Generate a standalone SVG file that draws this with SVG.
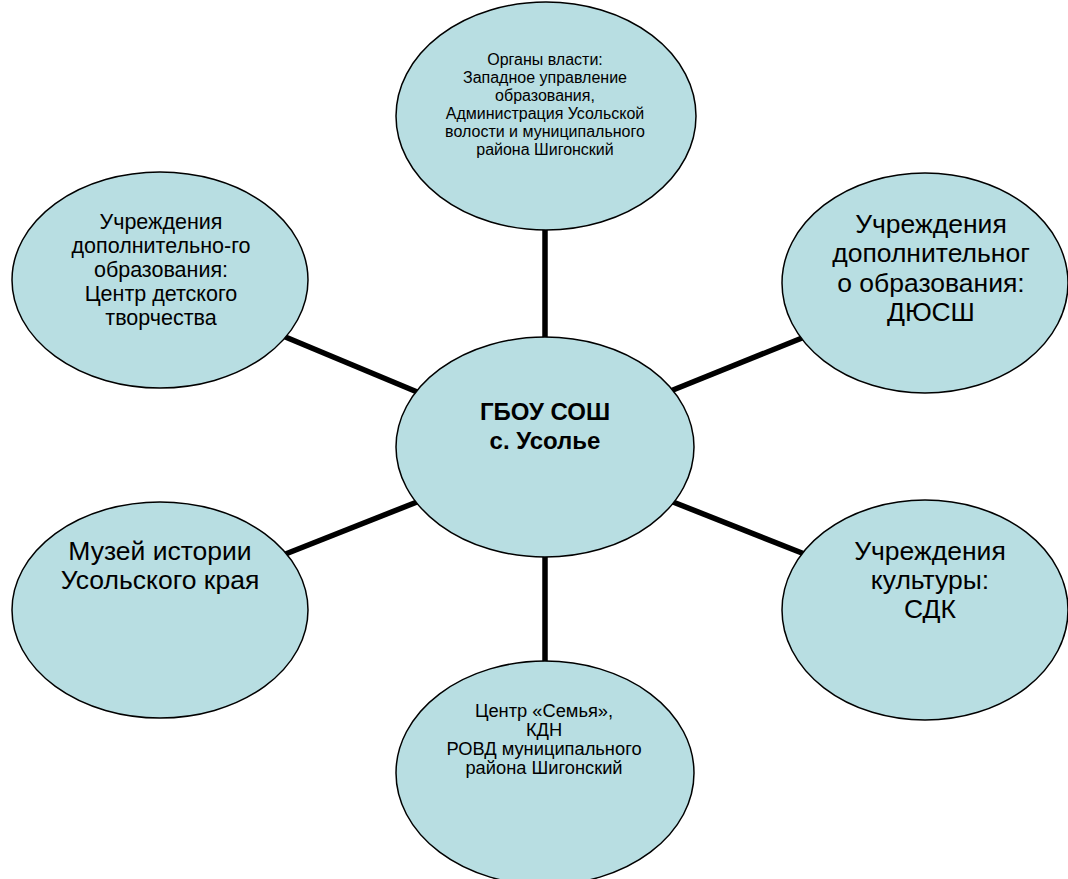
<svg xmlns="http://www.w3.org/2000/svg" width="1068" height="879" viewBox="0 0 1068 879">
<style>
.node ellipse{fill:#B8DEE2;stroke:#000;stroke-width:1.5}
.node text{font-family:"Liberation Sans",Arial,sans-serif;fill:#000;text-anchor:middle}
.s{font-size:16px}
.s2{font-size:18.3px}
.m{font-size:21.5px}
.l{font-size:26.5px}
.b{font-size:24px;font-weight:bold}
#connectors line{stroke:#000;stroke-width:5.5}
</style>
<rect width="1068" height="879" fill="#fff"/>
<g id="connectors">
<line x1="545" y1="225" x2="545" y2="342"/>
<line x1="545" y1="553" x2="545" y2="667"/>
<line x1="283" y1="336" x2="422" y2="394"/>
<line x1="668" y1="392" x2="807" y2="336"/>
<line x1="283" y1="555" x2="422" y2="500"/>
<line x1="668" y1="500" x2="807" y2="555"/>
</g>
<g id="node-top" class="node">
<ellipse cx="546" cy="116" rx="150" ry="114"/>
<text class="s" x="545" y="65">Органы власти:</text>
<text class="s" x="545" y="83">Западное управление</text>
<text class="s" x="545" y="101">образования,</text>
<text class="s" x="545" y="119">Администрация Усольской</text>
<text class="s" x="545" y="137">волости и муниципального</text>
<text class="s" x="545" y="155">района Шигонский</text>
</g>
<g id="node-topleft" class="node">
<ellipse cx="160" cy="280" rx="148" ry="108"/>
<text class="m" x="161" y="229">Учреждения</text>
<text class="m" x="161" y="253">дополнительно-го</text>
<text class="m" x="161" y="277">образования:</text>
<text class="m" x="161" y="301">Центр детского</text>
<text class="m" x="161" y="325">творчества</text>
</g>
<g id="node-topright" class="node">
<ellipse cx="925" cy="283" rx="143" ry="110"/>
<text class="l" x="931" y="233">Учреждения</text>
<text class="l" x="931" y="262">дополнительног</text>
<text class="l" x="931" y="292">о образования:</text>
<text class="l" x="931" y="321">ДЮСШ</text>
</g>
<g id="node-center" class="node">
<ellipse cx="545" cy="447" rx="149" ry="110"/>
<text class="b" x="545" y="420">ГБОУ СОШ</text>
<text class="b" x="545" y="449">с. Усолье</text>
</g>
<g id="node-bottomleft" class="node">
<ellipse cx="160" cy="610" rx="148" ry="108"/>
<text class="l" x="160" y="560">Музей истории</text>
<text class="l" x="160" y="589">Усольского края</text>
</g>
<g id="node-bottomright" class="node">
<ellipse cx="925" cy="610" rx="143" ry="110"/>
<text class="l" x="930" y="560">Учреждения</text>
<text class="l" x="930" y="589">культуры:</text>
<text class="l" x="930" y="618">СДК</text>
</g>
<g id="node-bottom" class="node">
<ellipse cx="545" cy="773" rx="149" ry="112"/>
<text class="s2" x="544" y="717">Центр «Семья»,</text>
<text class="s2" x="544" y="736">КДН</text>
<text class="s2" x="544" y="755">РОВД муниципального</text>
<text class="s2" x="544" y="774">района Шигонский</text>
</g>
</svg>
